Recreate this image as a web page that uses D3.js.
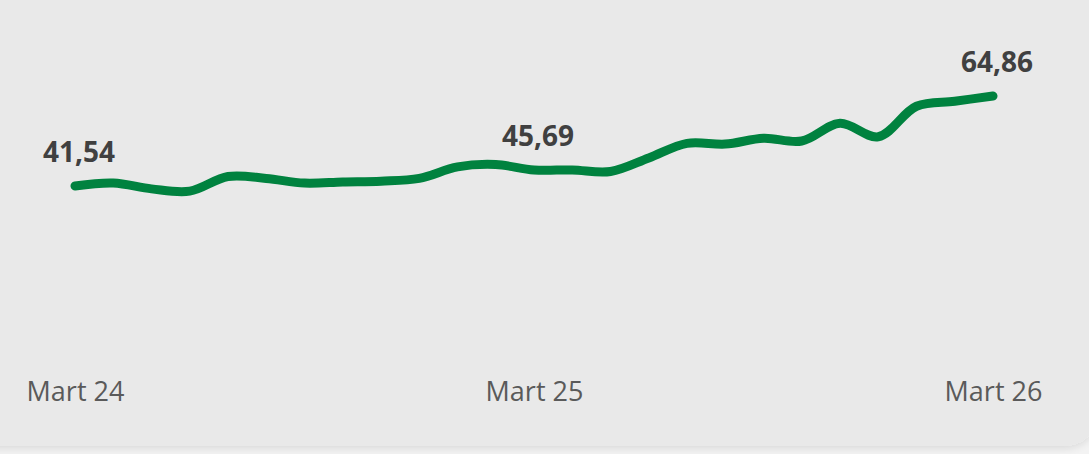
<!DOCTYPE html>
<meta charset="utf-8" />
<title>Mart 24 - Mart 26</title>
<script src="https://d3js.org/d3.v7.min.js"></script>
<style>
  html, body { margin: 0; padding: 0; background: #f3f3f3; }
  svg { display: block; }
</style>
<body>
<div id="chart"></div>
<script>
  // monthly values, Mart 24 .. Mart 26
  var months = ["Mart 24","Nisan 24","Mayıs 24","Haziran 24","Temmuz 24","Ağustos 24",
                "Eylül 24","Ekim 24","Kasım 24","Aralık 24","Ocak 25","Şubat 25",
                "Mart 25","Nisan 25","Mayıs 25","Haziran 25","Temmuz 25","Ağustos 25",
                "Eylül 25","Ekim 25","Kasım 25","Aralık 25","Ocak 26","Şubat 26","Mart 26"];
  var values = [41.54, 42.3, 40.8, 40.2, 44.0, 43.5, 42.3, 42.6, 42.8, 43.5, 46.5, 47.1,
                45.69, 45.7, 45.3, 48.8, 52.6, 52.4, 53.9, 53.2, 57.8, 54.3, 62.2, 63.5, 64.86];
  var tickLabels = ["Mart 24", "Mart 25", "Mart 26"];
  var labelled   = [0, 12, 24]; // points with a value label

  var width = 1089, height = 454;
  var x0 = 75, x1 = 993;

  var svg = d3.select("#chart").append("svg")
    .attr("width", width)
    .attr("height", height);

  // card background with soft shadow
  var defs = svg.append("defs");
  var f = defs.append("filter").attr("id", "shadow")
    .attr("x", "-5%").attr("y", "-5%").attr("width", "110%").attr("height", "115%");
  f.append("feGaussianBlur").attr("in", "SourceAlpha").attr("stdDeviation", 4);
  f.append("feOffset").attr("dx", 0).attr("dy", 2).attr("result", "b");
  f.append("feComponentTransfer").append("feFuncA").attr("type", "linear").attr("slope", 0.12);
  var m = f.append("feMerge");
  m.append("feMergeNode");
  m.append("feMergeNode").attr("in", "SourceGraphic");

  svg.append("rect")
    .attr("x", -40).attr("y", -40)
    .attr("width", width + 8 + 40).attr("height", 446 + 40)
    .attr("rx", 32).attr("ry", 32)
    .attr("fill", "#e9e9e9")
    .attr("filter", "url(#shadow)");

  var x = d3.scalePoint()
    .domain(months)
    .range([x0, x1]);

  var y = d3.scaleLinear()
    .domain([41.54, 64.86])
    .range([186, 96]);

  var line = d3.line()
    .x(function(d, i) { return x(months[i]); })
    .y(function(d) { return y(d); })
    .curve(d3.curveCatmullRom.alpha(0.5));

  svg.append("path")
    .datum(values)
    .attr("fill", "none")
    .attr("stroke", "#00823f")
    .attr("stroke-width", 9)
    .attr("stroke-linecap", "round")
    .attr("stroke-linejoin", "round")
    .attr("d", line);

  // value labels
  var fmt = function(v) { return d3.format(".2f")(v).replace(".", ","); };
  svg.selectAll(".vlabel")
    .data(labelled)
    .enter().append("text")
    .attr("class", "vlabel")
    .attr("x", function(i) { return x(months[i]) + 4; })
    .attr("y", function(i) { return y(values[i]) - 24; })
    .attr("text-anchor", "middle")
    .attr("font-family", "'Open Sans', 'Noto Sans', sans-serif")
    .attr("font-weight", 700)
    .attr("font-size", 28)
    .attr("fill", "#404040")
    .text(function(i) { return fmt(values[i]); });

  // x axis labels (no line, no ticks)
  var axis = d3.axisBottom(x)
    .tickValues(tickLabels)
    .tickSize(0)
    .tickPadding(0);

  var gx = svg.append("g")
    .attr("transform", "translate(0,382)")
    .call(axis);
  gx.select(".domain").remove();
  gx.selectAll("text")
    .attr("dy", "0.71em")
    .attr("font-family", "'Open Sans', 'Noto Sans', sans-serif")
    .attr("font-size", 27)
    .attr("fill", "#5a5a5a");
</script>
</body>
